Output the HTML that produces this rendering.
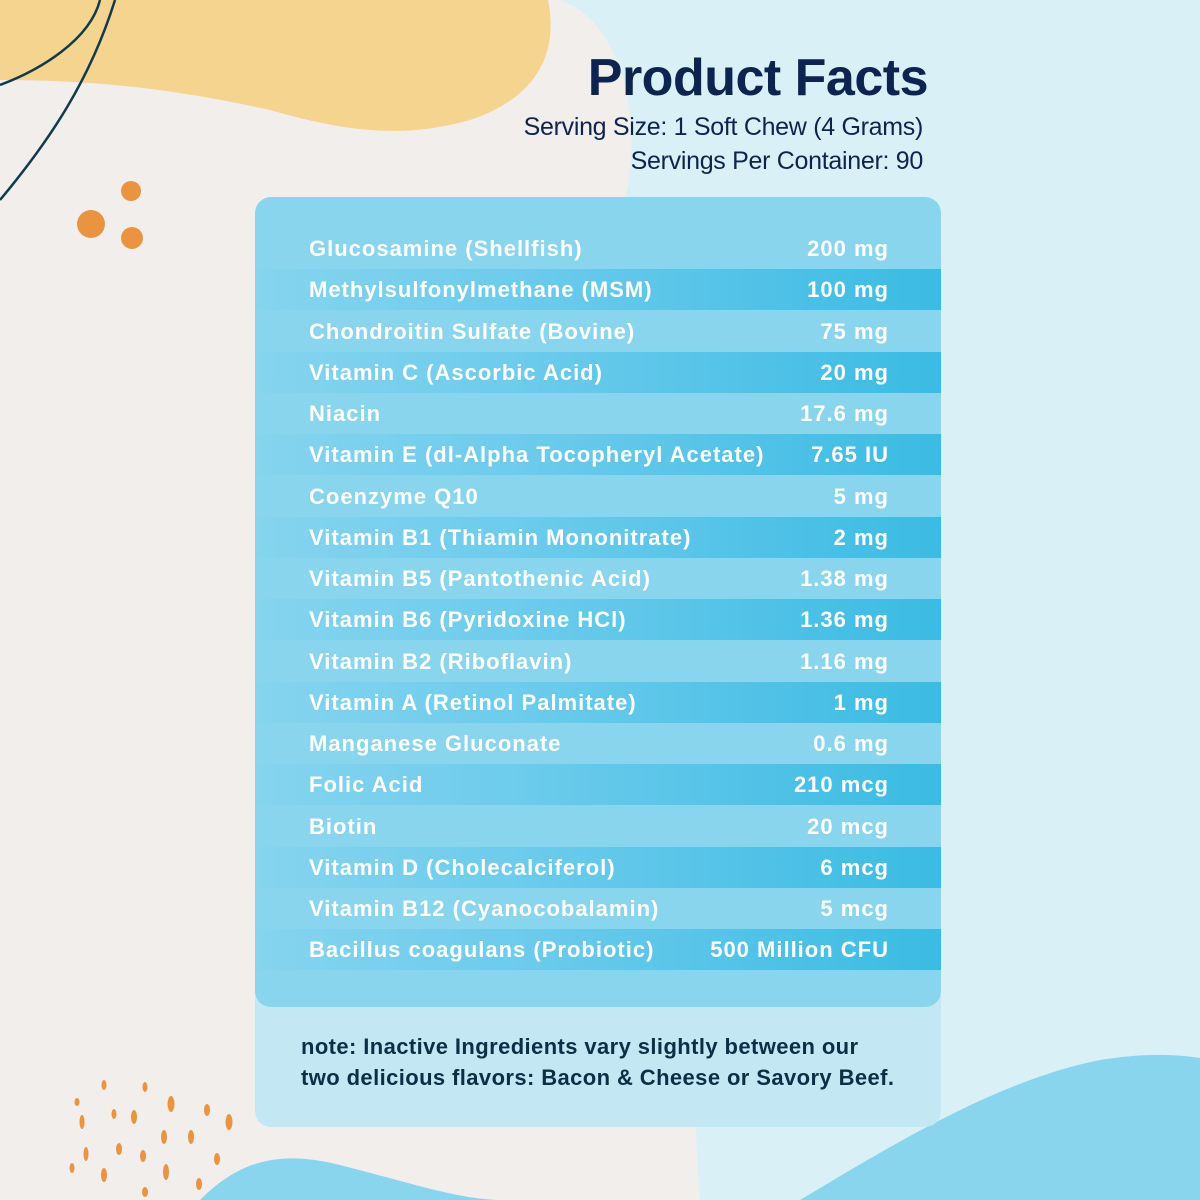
<!DOCTYPE html>
<html><head><meta charset="utf-8"><style>
body{margin:0;width:1200px;height:1200px;overflow:hidden;font-family:"Liberation Sans",sans-serif;background:#f1eeec;position:relative}
.abs{position:absolute}
#title{right:272px;top:48px;font-size:52px;font-weight:bold;color:#0d2350;letter-spacing:-0.5px}
.sv{right:277px;font-size:25px;color:#0d2350;letter-spacing:-0.3px}
#panel{left:255px;top:197px;width:686px;height:930px;border-radius:16px;background:#c3e8f4;overflow:hidden}
#main{left:0;top:0;width:686px;height:810px;border-radius:16px;background:#89d5ee}
.row{left:0;width:686px;height:41px;color:#fff;font-weight:bold;font-size:22px;line-height:41px;letter-spacing:1px}
.row.dk{background:linear-gradient(90deg,#86d4ee 0%,#6ccbec 40%,#3bbbe3 100%)}
.row .n{position:absolute;left:54px}
.row .v{position:absolute;right:52px}
#note{left:46px;top:834px;font-size:22px;font-weight:bold;color:#0d2f45;line-height:31px;letter-spacing:0.4px}
</style></head><body>
<svg class="abs" style="left:0;top:0" width="1200" height="1200">
<path d="M560 0 C620 20 650 120 620 220 C600 330 640 500 680 700 C700 900 690 1100 700 1200 L1200 1200 L1200 0 Z" fill="#d9f0f7"/>
<path d="M0 0 L548 0 C560 60 530 100 470 120 C400 140 340 130 270 110 C180 90 100 80 0 80 Z" fill="#f4d48f"/>
<path d="M0 85 C40 70 90 40 100 0" stroke="#123a4a" stroke-width="2.5" fill="none"/>
<path d="M0 200 C50 140 90 80 115 0" stroke="#123a4a" stroke-width="2.5" fill="none"/>
<circle cx="131" cy="191" r="10" fill="#ea9441"/><circle cx="91" cy="224" r="14" fill="#ea9441"/><circle cx="132" cy="238" r="11" fill="#ea9441"/>
<path d="M200 1200 C240 1160 280 1150 340 1165 C400 1180 460 1200 500 1200 Z" fill="#89d5ee"/>
<path d="M800 1200 C900 1140 1000 1080 1100 1060 C1150 1052 1180 1055 1200 1058 L1200 1200 Z" fill="#89d5ee"/>
<g fill="#ea9441"><ellipse cx="104" cy="1085" rx="2.5" ry="5"/><ellipse cx="145" cy="1087" rx="2.5" ry="5"/><ellipse cx="171" cy="1104" rx="3.5" ry="8"/><ellipse cx="207" cy="1110" rx="3" ry="6"/><ellipse cx="77" cy="1102" rx="2.5" ry="4"/><ellipse cx="82" cy="1122" rx="2.5" ry="7"/><ellipse cx="114" cy="1114" rx="2.5" ry="5"/><ellipse cx="134" cy="1117" rx="3" ry="7"/><ellipse cx="229" cy="1122" rx="3.5" ry="8"/><ellipse cx="164" cy="1137" rx="3" ry="7"/><ellipse cx="191" cy="1137" rx="3" ry="7"/><ellipse cx="86" cy="1154" rx="2.5" ry="7"/><ellipse cx="119" cy="1149" rx="3" ry="6"/><ellipse cx="143" cy="1156" rx="3" ry="6"/><ellipse cx="217" cy="1159" rx="3" ry="6"/><ellipse cx="72" cy="1168" rx="2.5" ry="5"/><ellipse cx="104" cy="1175" rx="3" ry="7"/><ellipse cx="166" cy="1172" rx="3" ry="8"/><ellipse cx="199" cy="1184" rx="3" ry="6"/><ellipse cx="145" cy="1192" rx="3" ry="5"/></g>
</svg>
<div id="title" class="abs">Product Facts</div>
<div class="abs sv" style="top:113px">Serving Size: 1 Soft Chew (4 Grams)</div>
<div class="abs sv" style="top:147px">Servings Per Container: 90</div>
<div id="panel" class="abs">
<div id="main" class="abs"></div>
<div id="note" class="abs">note: Inactive Ingredients vary slightly between our<br>two delicious flavors: Bacon &amp; Cheese or Savory Beef.</div>
</div>
<script>
const names=["Glucosamine (Shellfish)","Methylsulfonylmethane (MSM)","Chondroitin Sulfate (Bovine)","Vitamin C (Ascorbic Acid)","Niacin","Vitamin E (dl-Alpha Tocopheryl Acetate)","Coenzyme Q10","Vitamin B1 (Thiamin Mononitrate)","Vitamin B5 (Pantothenic Acid)","Vitamin B6 (Pyridoxine HCl)","Vitamin B2 (Riboflavin)","Vitamin A (Retinol Palmitate)","Manganese Gluconate","Folic Acid","Biotin","Vitamin D (Cholecalciferol)","Vitamin B12 (Cyanocobalamin)","Bacillus coagulans (Probiotic)"];
const amounts=["200 mg","100 mg","75 mg","20 mg","17.6 mg","7.65 IU","5 mg","2 mg","1.38 mg","1.36 mg","1.16 mg","1 mg","0.6 mg","210 mcg","20 mcg","6 mcg","5 mcg","500 Million CFU"];
const main=document.getElementById('main');
names.forEach((n,i)=>{
 const r=document.createElement('div');
 r.className='abs row'+(i%2?' dk':'');
 r.style.top=(31+i*41.25)+'px';
 
 
 const a=document.createElement('span');a.className='n';a.textContent=n;
 
 
 const b=document.createElement('span');b.className='v';b.textContent=amounts[i];
 
 
 r.appendChild(a);r.appendChild(b);main.appendChild(r);
});
</script>
</body></html>
